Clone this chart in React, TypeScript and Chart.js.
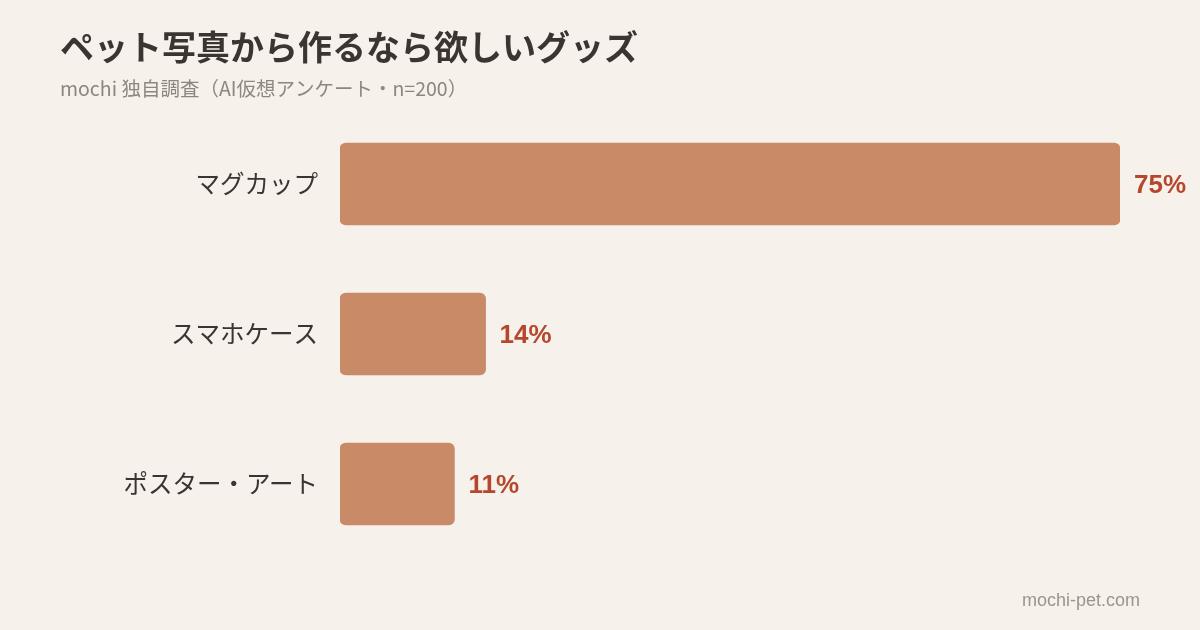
import React, { useEffect, useRef } from "react";
import { Chart, registerables } from "chart.js";

Chart.register(...registerables);

const categories = ["マグカップ", "スマホケース", "ポスター・アート"];
const values = [75, 14, 11];
const valueLabels = ["75%", "14%", "11%"];
const titleText = "ペット写真から作るなら欲しいグッズ";
const subtitleText = "mochi 独自調査（AI仮想アンケート・n=200）";
const footerText = "mochi-pet.com";

const JP = '"Noto Sans CJK JP", "Noto Sans", sans-serif';
const LAT = '"Liberation Sans", Arial, sans-serif';

export default function App() {
  const ref = useRef<HTMLCanvasElement | null>(null);
  useEffect(() => {
    document.body.style.margin = "0";
    const canvas = ref.current;
    if (!canvas) return;
    const textPlugin = {
      id: "texts",
      afterDatasetsDraw(chart: any) {
        const ctx = chart.ctx;
        ctx.save();
        ctx.textBaseline = "middle";
        ctx.textAlign = "left";
        ctx.fillStyle = "#3a3531";
        ctx.font = `bold 34px ${JP}`;
        ctx.fillText(titleText, 60, 47);
        ctx.fillStyle = "#8c8781";
        ctx.font = `19.5px ${JP}`;
        ctx.fillText(subtitleText, 60, 89);
        ctx.textAlign = "right";
        ctx.font = `18px ${LAT}`;
        ctx.fillStyle = "#9a958f";
        ctx.fillText(footerText, 1140, 601);
        const meta = chart.getDatasetMeta(0);
        ctx.textAlign = "left";
        ctx.font = `bold 26px ${LAT}`;
        ctx.fillStyle = "#b5472d";
        meta.data.forEach((bar: any, i: number) => {
          ctx.fillText(valueLabels[i], bar.x + 14, bar.y + 2);
        });
        ctx.restore();
      },
    };
    const chart = new Chart(canvas, {
      type: "bar",
      data: {
        labels: categories,
        datasets: [
          {
            data: values,
            backgroundColor: "#c98a68",
            borderRadius: 6,
            borderSkipped: false,
            barThickness: 82,
          },
        ],
      },
      options: {
        indexAxis: "y",
        responsive: false,
        animation: false,
        layout: { padding: { left: 0, right: 80, top: 109, bottom: 71 } },
        plugins: {
          legend: { display: false },
          tooltip: { enabled: false },
        },
        scales: {
          x: { display: false, min: 0, max: 75 },
          y: {
            grid: { display: false },
            border: { display: false },
            ticks: {
              color: "#3a3531",
              font: { family: JP, size: 24.5 },
              padding: 14,
            },
            afterFit(scale: any) {
              scale.width = 340;
            },
          },
        },
      },
      plugins: [
        {
          id: "bg",
          beforeDraw(c: any) {
            const ctx = c.ctx;
            ctx.save();
            ctx.fillStyle = "#f6f1eb";
            ctx.fillRect(0, 0, c.width, c.height);
            ctx.restore();
          },
        },
        textPlugin,
      ],
    });
    return () => chart.destroy();
  }, []);
  return (
    <div style={{ width: 1200, height: 630 }}>
      <canvas ref={ref} width={1200} height={630} style={{ display: "block" }} />
    </div>
  );
}
